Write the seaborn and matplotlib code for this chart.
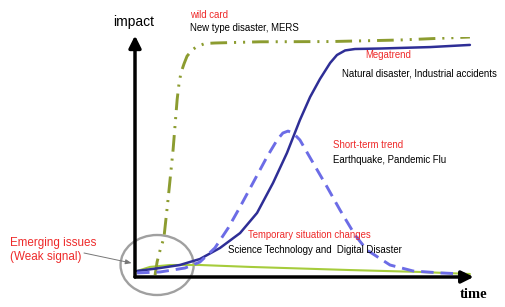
import matplotlib
matplotlib.use("Agg")
import matplotlib.pyplot as plt
import seaborn as sns
from matplotlib.patches import Ellipse

sns.set_theme(style="white")
plt.rcParams['font.family'] = ['Liberation Sans', 'DejaVu Sans']
plt.rcParams['lines.scale_dashes'] = False

# ---- data (time 0..100, impact 0..100) ----
wild_t = [5.9, 6.5, 7.4, 8.5, 9.7, 11.2, 12.4, 12.9, 13.5, 14.4, 15.3, 16.8, 18.2, 20.6, 23.5, 36.8, 57.4, 77.9, 98.5]
wild_v = [0.8, 6.3, 11.3, 16.3, 32, 53, 74, 80, 85, 88.75, 92, 94.6, 96, 97.3, 97.5, 98, 98.1, 98.75, 100]

mega_t = [0.6, 7.4, 13.2, 19.1, 25, 30.9, 35.9, 40.6, 44.7, 48.5, 51.5, 54.4, 57.4, 59.4, 61.8, 64.7, 72.1, 86.8, 98.5]
mega_v = [2.5, 3.75, 5, 7.5, 12.1, 18.3, 26.7, 39.2, 51.7, 65.4, 75, 82.5, 89.2, 92.5, 94.4, 95, 95.2, 95.8, 96.7]

short_t = [0.6, 7.4, 14.7, 19.1, 23.5, 27.4, 30.9, 34.7, 38.8, 41.8, 43.5, 45.0, 46.5, 48.5, 52.4, 56.5, 60.3, 64.7, 68.2, 75.0, 81.8, 89.7, 97.1]
short_v = [1.7, 2.1, 3.75, 6.25, 12.1, 20.4, 29.2, 39.2, 50, 57.1, 60, 60.8, 60, 57.1, 47.5, 37.5, 27.9, 17.5, 11.25, 5, 2.5, 1.7, 1.25]

temp_t = [0.6, 4.4, 10.3, 19.1, 33.8, 63.2, 83.8, 98.5]
temp_v = [2.5, 4.2, 5, 5, 4.2, 2.9, 2.1, 1.25]

RED = "#ee2a2a"
OLIVE = "#8c9c30"
NAVY = "#2e2e96"
BLUE = "#6c6ce6"
LGREEN = "#a6cc3c"

fig = plt.figure(figsize=(5.06, 3.07), dpi=100)
fig.patch.set_facecolor("white")
ax = fig.add_axes([135/506, 30/307, 340/506, 240/307])
ax.set_xlim(0, 100)
ax.set_ylim(0, 100)
ax.axis("off")

sns.lineplot(x=temp_t, y=temp_v, ax=ax, sort=False, color=LGREEN, linewidth=1.5, estimator=None)
sns.lineplot(x=wild_t, y=wild_v, ax=ax, sort=False, color=OLIVE, linewidth=2.1, estimator=None,
             linestyle=(0, (12, 5, 1.5, 5, 1.5, 5)))
sns.lineplot(x=mega_t, y=mega_v, ax=ax, sort=False, color=NAVY, linewidth=1.8, estimator=None)
sns.lineplot(x=short_t, y=short_v, ax=ax, sort=False, color=BLUE, linewidth=2.1, estimator=None,
             linestyle=(0, (9, 5)))

# axes with arrows
ax.annotate("", xy=(99.6, 0), xytext=(0, 0), xycoords="data",
            arrowprops=dict(arrowstyle="-|>,head_length=0.6,head_width=0.3", color="black", lw=2.5,
                            shrinkA=0, shrinkB=0), annotation_clip=False)
ax.annotate("", xy=(0, 100.6), xytext=(0, 0), xycoords="data",
            arrowprops=dict(arrowstyle="-|>,head_length=0.6,head_width=0.3", color="black", lw=2.5,
                            shrinkA=0, shrinkB=0), annotation_clip=False)

# weak-signal ellipse
ax.add_patch(Ellipse((6.5, 5), 21.5, 25, fill=False, edgecolor="#a0a0a0", lw=1.7, clip_on=False))
ax.annotate("", xy=(-1.0, 5.8), xytext=(-15, 10), xycoords="data",
            arrowprops=dict(arrowstyle="-|>,head_length=0.3,head_width=0.12", color="#777777", lw=0.7,
                            shrinkA=0, shrinkB=0), annotation_clip=False)

small = 6.9
ax.text(-0.3, 106.3, "impact", fontsize=10, ha="center", va="center", color="black", clip_on=False)
ax.text(99.7, -7.5, "time", fontsize=10.5, ha="center", va="center", color="black",
        family="Liberation Serif", weight="bold", clip_on=False)
ax.text(16.2, 109.2, "wild card", fontsize=small, color=RED, ha="left", va="center", clip_on=False)
ax.text(16.2, 103.7, "New type disaster, MERS", fontsize=small, color="black", ha="left", va="center", clip_on=False)
ax.text(67.6, 92.5, "Megatrend", fontsize=small, color=RED, ha="left", va="center", clip_on=False)
ax.text(60.9, 85, "Natural disaster, Industrial accidents", fontsize=small, color="black", ha="left", va="center", clip_on=False)
ax.text(58.2, 55, "Short-term trend", fontsize=small, color=RED, ha="left", va="center", clip_on=False)
ax.text(58.2, 48.7, "Earthquake, Pandemic Flu", fontsize=small, color="black", ha="left", va="center", clip_on=False)
ax.text(33.2, 17.5, "Temporary situation changes", fontsize=small, color=RED, ha="left", va="center", clip_on=False)
ax.text(27.4, 11.2, "Science Technology and  Digital Disaster", fontsize=small, color="black", ha="left", va="center", clip_on=False)
ax.text(-36.8, 14.2, "Emerging issues", fontsize=8.4, color=RED, ha="left", va="center", clip_on=False)
ax.text(-36.8, 8.3, "(Weak signal)", fontsize=8.4, color=RED, ha="left", va="center", clip_on=False)

fig.savefig("out.png", dpi=100, facecolor="white")
